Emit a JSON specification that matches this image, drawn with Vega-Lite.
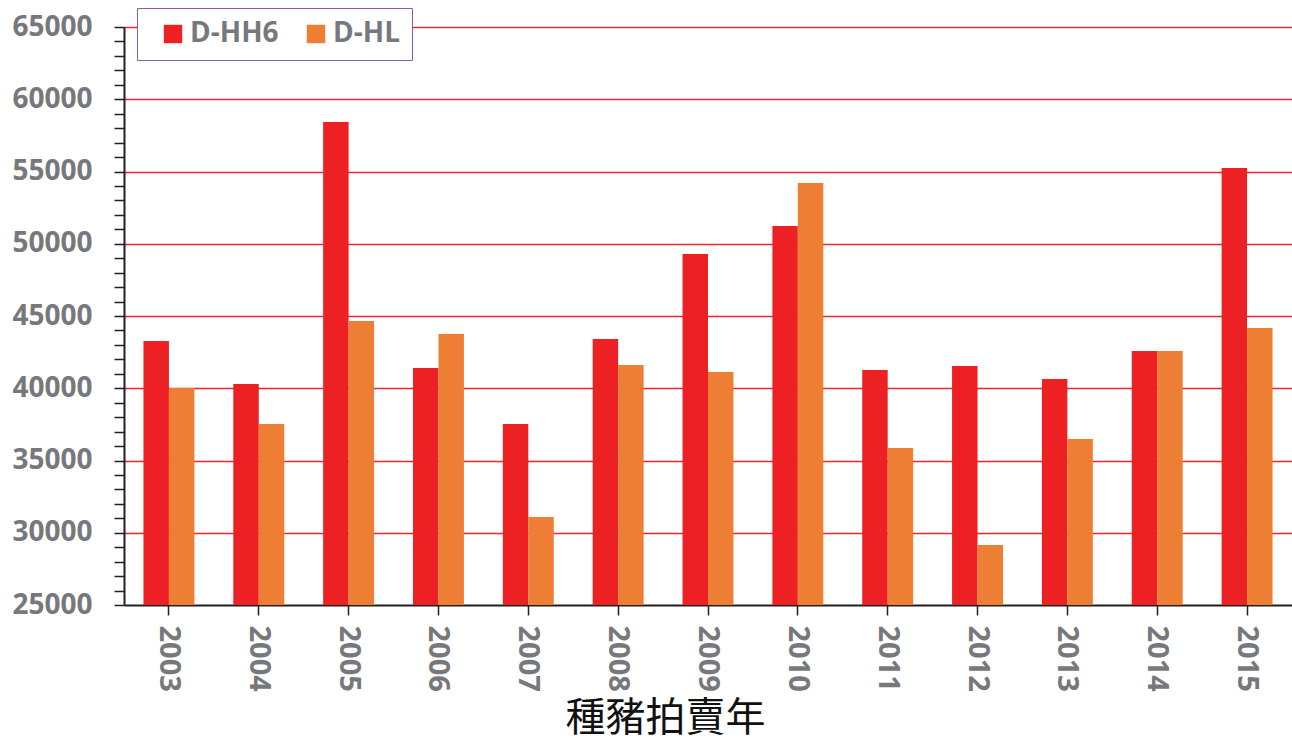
{
  "$schema": "https://vega.github.io/schema/vega-lite/v6.json",
  "width": 1168,
  "height": 578,
  "autosize": "none",
  "padding": {"left": 124, "top": 27, "right": 0, "bottom": 139},
  "background": "white",
  "config": {"view": {"stroke": null}, "font": "Open Sans"},
  "data": {
    "values": [
      {"year": "2003", "series": "D-HH6", "value": 43270},
      {"year": "2003", "series": "D-HL", "value": 40020},
      {"year": "2004", "series": "D-HH6", "value": 40290},
      {"year": "2004", "series": "D-HL", "value": 37530},
      {"year": "2005", "series": "D-HH6", "value": 58430},
      {"year": "2005", "series": "D-HL", "value": 44650},
      {"year": "2006", "series": "D-HH6", "value": 41400},
      {"year": "2006", "series": "D-HL", "value": 43750},
      {"year": "2007", "series": "D-HH6", "value": 37530},
      {"year": "2007", "series": "D-HL", "value": 31090},
      {"year": "2008", "series": "D-HH6", "value": 43410},
      {"year": "2008", "series": "D-HL", "value": 41610},
      {"year": "2009", "series": "D-HH6", "value": 49290},
      {"year": "2009", "series": "D-HL", "value": 41125},
      {"year": "2010", "series": "D-HH6", "value": 51230},
      {"year": "2010", "series": "D-HL", "value": 54200},
      {"year": "2011", "series": "D-HH6", "value": 41260},
      {"year": "2011", "series": "D-HL", "value": 35870},
      {"year": "2012", "series": "D-HH6", "value": 41540},
      {"year": "2012", "series": "D-HL", "value": 29150},
      {"year": "2013", "series": "D-HH6", "value": 40640},
      {"year": "2013", "series": "D-HL", "value": 36490},
      {"year": "2014", "series": "D-HH6", "value": 42580},
      {"year": "2014", "series": "D-HL", "value": 42580},
      {"year": "2015", "series": "D-HH6", "value": 55240},
      {"year": "2015", "series": "D-HL", "value": 44170}
    ]
  },
  "mark": {"type": "bar"},
  "encoding": {
    "x": {
      "field": "year",
      "type": "nominal",
      "scale": {"paddingInner": 0.433, "paddingOuter": 0.2165},
      "axis": {
        "title": "種豬拍賣年",
        "titleFont": "Noto Sans CJK TC",
        "titleFontSize": 40,
        "titleFontWeight": "normal",
        "titleColor": "#111111",
        "titleX": 541,
        "titleY": 125,
        "titleAnchor": "middle",
        "titleAlign": "center",
        "titleBaseline": "alphabetic",
        "labelAngle": 90,
        "labelAlign": "left",
        "labelBaseline": "middle",
        "labelFontSize": 29,
        "labelFontWeight": "bold",
        "labelColor": "#77787b",
        "labelPadding": 10,
        "domainColor": "#231f20",
        "domainWidth": 2,
        "tickColor": "#231f20",
        "tickWidth": 1.5,
        "tickSize": 10,
        "grid": false
      }
    },
    "xOffset": {"field": "series", "type": "nominal", "scale": {"paddingInner": 0, "paddingOuter": 0}},
    "y": {
      "field": "value",
      "type": "quantitative",
      "scale": {"domain": [25000, 65000], "zero": false, "nice": false},
      "axis": {
        "title": null,
        "values": [25000, 26000, 27000, 28000, 29000, 30000, 31000, 32000, 33000, 34000, 35000, 36000, 37000, 38000, 39000, 40000, 41000, 42000, 43000, 44000, 45000, 46000, 47000, 48000, 49000, 50000, 51000, 52000, 53000, 54000, 55000, 56000, 57000, 58000, 59000, 60000, 61000, 62000, 63000, 64000, 65000],
        "labelExpr": "datum.value % 5000 === 0 ? format(datum.value, 'd') : ''",
        "labelFontSize": 28,
        "labelFontWeight": "bold",
        "labelColor": "#77787b",
        "labelPadding": 22,
        "labelOverlap": false,
        "domainColor": "#231f20",
        "domainWidth": 2,
        "tickColor": "#231f20",
        "tickWidth": 1.5,
        "tickSize": 10,
        "grid": true,
        "gridColor": "#e8262b",
        "gridWidth": 1.5,
        "gridOpacity": {"condition": {"test": "datum.value % 5000 === 0 && datum.value > 25000", "value": 1}, "value": 0}
      }
    },
    "y2": {"datum": 25000},
    "color": {
      "field": "series",
      "type": "nominal",
      "scale": {"domain": ["D-HH6", "D-HL"], "range": ["#ed2024", "#ee7e33"]},
      "legend": {
        "title": null,
        "orient": "none",
        "direction": "horizontal",
        "legendX": 13,
        "legendY": -19,
        "padding": 12,
        "symbolOffset": 10,
        "strokeColor": "#8a5ba6",
        "fillColor": "white",
        "symbolType": "square",
        "symbolSize": 340,
        "symbolStrokeWidth": 0,
        "labelFontSize": 28,
        "labelFontWeight": "bold",
        "labelColor": "#77787b",
        "labelOffset": 3,
        "columnPadding": 13
      }
    }
  }
}
